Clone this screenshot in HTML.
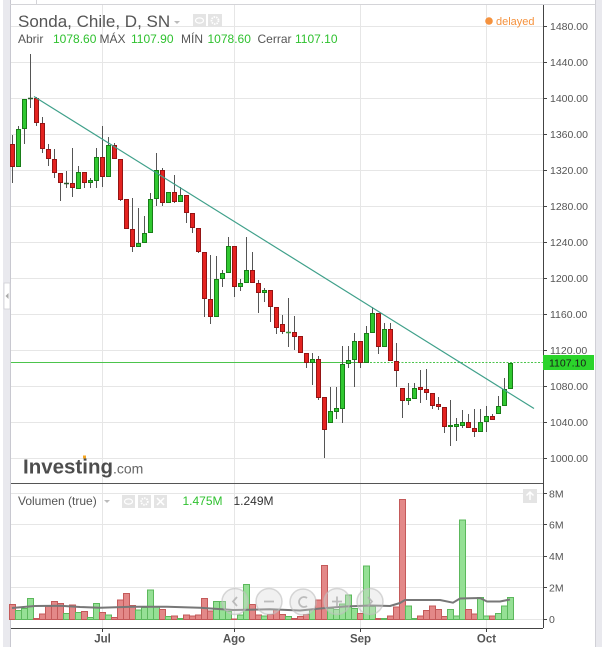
<!DOCTYPE html>
<html><head><meta charset="utf-8"><style>
html,body{margin:0;padding:0;background:#fff;}
svg{display:block;font-family:"Liberation Sans",Arial,sans-serif;}
.w{stroke:#555;stroke-width:1;}
.r{fill:#e42320;stroke:#941414;stroke-width:1;}
.g{fill:#30c830;stroke:#187d18;stroke-width:1;}
.vr{fill:#e38888;stroke:#c45a5a;stroke-width:1;}
.vg{fill:#95e095;stroke:#5cb85c;stroke-width:1;}
.gl{stroke:#e6e6e6;stroke-width:1;}
.ax{font-size:10.5px;fill:#555;}
</style></head><body>
<svg width="605" height="647" viewBox="0 0 605 647" xmlns="http://www.w3.org/2000/svg">
<rect width="605" height="647" fill="#fff"/>
<rect x="3" y="0" width="7" height="647" fill="#e9e9ee"/>
<line x1="10.5" y1="0" x2="10.5" y2="647" stroke="#c8c8d0"/>
<rect x="4" y="283" width="6" height="26" fill="#fff" stroke="#d0d0d6" stroke-width="0.8"/>
<polygon points="8.5,293 8.5,299 5.5,296" fill="#aaa"/>
<rect x="595" y="0" width="7" height="647" fill="#e9e9ee"/>
<line x1="595.5" y1="0" x2="595.5" y2="647" stroke="#d0d0d6"/>
<line x1="10" y1="4.5" x2="595" y2="4.5" stroke="#d4d4d8"/>
<line x1="36.5" y1="0" x2="36.5" y2="4" stroke="#d4d4d8"/>
<g class="gl">
<line x1="11" y1="26.5" x2="543" y2="26.5"/><line x1="11" y1="62.5" x2="543" y2="62.5"/>
<line x1="11" y1="98.5" x2="543" y2="98.5"/><line x1="11" y1="134.5" x2="543" y2="134.5"/>
<line x1="11" y1="170.5" x2="543" y2="170.5"/><line x1="11" y1="206.5" x2="543" y2="206.5"/>
<line x1="11" y1="242.5" x2="543" y2="242.5"/><line x1="11" y1="278.5" x2="543" y2="278.5"/>
<line x1="11" y1="314.5" x2="543" y2="314.5"/><line x1="11" y1="350.5" x2="543" y2="350.5"/>
<line x1="11" y1="386.5" x2="543" y2="386.5"/><line x1="11" y1="422.5" x2="543" y2="422.5"/>
<line x1="11" y1="458.5" x2="543" y2="458.5"/>
<line x1="11" y1="493.5" x2="543" y2="493.5"/><line x1="11" y1="524.5" x2="543" y2="524.5"/>
<line x1="11" y1="556.5" x2="543" y2="556.5"/><line x1="11" y1="587.5" x2="543" y2="587.5"/>
<line x1="11" y1="619.5" x2="543" y2="619.5"/>
<line x1="102.5" y1="5" x2="102.5" y2="628"/><line x1="234.5" y1="5" x2="234.5" y2="628"/>
<line x1="360.5" y1="5" x2="360.5" y2="628"/><line x1="486.5" y1="5" x2="486.5" y2="628"/>
</g>
<text x="18" y="27" font-size="17" fill="#555">Sonda, Chile, D, SN</text>
<polygon points="174,21 180,21 177,24" fill="#bbb"/>
<rect x="193" y="14" width="13" height="13" fill="#e4e4e4"/>
<ellipse cx="199.5" cy="20.5" rx="4" ry="2.6" fill="none" stroke="#fff" stroke-width="1.2"/>
<rect x="208" y="14" width="14" height="13" fill="#e4e4e4"/>
<circle cx="215" cy="20.5" r="3.5" fill="none" stroke="#fff" stroke-width="1.8" stroke-dasharray="1.5,1"/>
<g font-size="12">
<text x="18" y="43" fill="#555">Abrir</text>
<text x="53" y="43" fill="#2fc12f">1078.60</text>
<text x="99.5" y="43" fill="#555">MÁX</text>
<text x="131" y="43" fill="#2fc12f">1107.90</text>
<text x="181" y="43" fill="#555">MÍN</text>
<text x="207.5" y="43" fill="#2fc12f">1078.60</text>
<text x="257.5" y="43" fill="#555">Cerrar</text>
<text x="295" y="43" fill="#2fc12f">1107.10</text>
</g>
<circle cx="489" cy="21" r="3.8" fill="#f5923e"/>
<text x="496" y="25" font-size="11" fill="#f5923e">delayed</text>
<line x1="543.5" y1="5" x2="543.5" y2="628" stroke="#444"/>
<g stroke="#444">
<line x1="543" y1="26.5" x2="547" y2="26.5"/><line x1="543" y1="62.5" x2="547" y2="62.5"/>
<line x1="543" y1="98.5" x2="547" y2="98.5"/><line x1="543" y1="134.5" x2="547" y2="134.5"/>
<line x1="543" y1="170.5" x2="547" y2="170.5"/><line x1="543" y1="206.5" x2="547" y2="206.5"/>
<line x1="543" y1="242.5" x2="547" y2="242.5"/><line x1="543" y1="278.5" x2="547" y2="278.5"/>
<line x1="543" y1="314.5" x2="547" y2="314.5"/><line x1="543" y1="350.5" x2="547" y2="350.5"/>
<line x1="543" y1="386.5" x2="547" y2="386.5"/><line x1="543" y1="422.5" x2="547" y2="422.5"/>
<line x1="543" y1="458.5" x2="547" y2="458.5"/>
<line x1="543" y1="493.5" x2="547" y2="493.5"/><line x1="543" y1="524.5" x2="547" y2="524.5"/>
<line x1="543" y1="556.5" x2="547" y2="556.5"/><line x1="543" y1="587.5" x2="547" y2="587.5"/>
<line x1="543" y1="619.5" x2="547" y2="619.5"/>
</g>
<g class="ax">
<text x="550" y="30">1480.00</text><text x="550" y="66">1440.00</text>
<text x="550" y="102">1400.00</text><text x="550" y="138">1360.00</text>
<text x="550" y="174">1320.00</text><text x="550" y="210">1280.00</text>
<text x="550" y="246">1240.00</text><text x="550" y="282">1200.00</text>
<text x="550" y="318">1160.00</text><text x="550" y="354">1120.00</text>
<text x="550" y="390">1080.00</text><text x="550" y="426">1040.00</text>
<text x="550" y="462">1000.00</text>
<text x="549" y="497.5">8M</text><text x="549" y="528.5">6M</text>
<text x="549" y="560">4M</text><text x="549" y="591.5">2M</text>
<text x="549" y="623">0</text>
</g>
<text x="23" y="473.5" font-size="20.5" font-weight="bold" fill="#4d4d4d" textLength="90" lengthAdjust="spacingAndGlyphs">Investing</text>
<text x="113" y="473.5" font-size="14" fill="#666">.com</text>
<rect x="83" y="455.5" width="3" height="3" fill="#f5a623"/>
<line x1="11" y1="362.5" x2="363" y2="362.5" stroke="#4cc44c"/>
<line x1="363" y1="362.5" x2="543" y2="362.5" stroke="#4cc44c" stroke-dasharray="2,1.5"/>
<g>
<line class="w" x1="12.5" y1="135" x2="12.5" y2="183"/><rect class="r" x="10.5" y="144.5" width="4" height="22"/>
<line class="w" x1="18.5" y1="126" x2="18.5" y2="167"/><rect class="g" x="16.5" y="129.5" width="4" height="37"/>
<line class="w" x1="24.5" y1="99" x2="24.5" y2="144"/><rect class="g" x="22.5" y="99.5" width="4" height="29"/>
<line class="w" x1="30.5" y1="54" x2="30.5" y2="108"/><line x1="28" y1="98.5" x2="33" y2="98.5" stroke="#2a5a2a" stroke-width="1.5"/>
<line class="w" x1="36.5" y1="97" x2="36.5" y2="126"/><rect class="r" x="34.5" y="98.5" width="4" height="24"/>
<line class="w" x1="42.5" y1="117" x2="42.5" y2="153"/><rect class="r" x="40.5" y="123.5" width="4" height="25"/>
<line class="w" x1="48.5" y1="144" x2="48.5" y2="166"/><rect class="r" x="46.5" y="149.5" width="4" height="9"/>
<line class="w" x1="54.5" y1="149" x2="54.5" y2="178"/><rect class="r" x="52.5" y="159.5" width="4" height="13"/>
<line class="w" x1="60.5" y1="173" x2="60.5" y2="201"/><rect class="r" x="58.5" y="173.5" width="4" height="9"/>
<line class="w" x1="66.5" y1="171" x2="66.5" y2="188"/><line x1="64" y1="183.5" x2="69" y2="183.5" stroke="#2a5a2a" stroke-width="1.5"/>
<line class="w" x1="72.5" y1="148" x2="72.5" y2="197"/><rect class="r" x="70.5" y="183.5" width="4" height="4"/>
<line class="w" x1="78.5" y1="166" x2="78.5" y2="189"/><rect class="g" x="76.5" y="172.5" width="4" height="16"/>
<line class="w" x1="84.5" y1="172" x2="84.5" y2="188"/><rect class="r" x="82.5" y="172.5" width="4" height="10"/>
<line class="w" x1="90.5" y1="178" x2="90.5" y2="188"/><rect class="g" x="88.5" y="180.5" width="4" height="2"/>
<line class="w" x1="96.5" y1="148" x2="96.5" y2="188"/><rect class="g" x="94.5" y="157.5" width="4" height="23"/>
<line class="w" x1="102.5" y1="126" x2="102.5" y2="187"/><rect class="r" x="100.5" y="157.5" width="4" height="19"/>
<line class="w" x1="108.5" y1="137" x2="108.5" y2="177"/><rect class="g" x="106.5" y="145.5" width="4" height="31"/>
<line class="w" x1="114.5" y1="143" x2="114.5" y2="159"/><rect class="r" x="112.5" y="145.5" width="4" height="13"/>
<line class="w" x1="120.5" y1="159" x2="120.5" y2="201"/><rect class="r" x="118.5" y="159.5" width="4" height="40"/>
<line class="w" x1="126.5" y1="199" x2="126.5" y2="229"/><rect class="r" x="124.5" y="199.5" width="4" height="29"/>
<line class="w" x1="132.5" y1="198" x2="132.5" y2="252"/><rect class="r" x="130.5" y="229.5" width="4" height="17"/>
<line class="w" x1="138.5" y1="208" x2="138.5" y2="247"/><rect class="g" x="136.5" y="243.5" width="4" height="3"/>
<line class="w" x1="144.5" y1="216" x2="144.5" y2="243"/><rect class="g" x="142.5" y="233.5" width="4" height="9"/>
<line class="w" x1="150.5" y1="193" x2="150.5" y2="233"/><rect class="g" x="148.5" y="199.5" width="4" height="33"/>
<line class="w" x1="156.5" y1="153" x2="156.5" y2="206"/><rect class="g" x="154.5" y="170.5" width="4" height="28"/>
<line class="w" x1="162.5" y1="168" x2="162.5" y2="206"/><rect class="r" x="160.5" y="170.5" width="4" height="32"/>
<line class="w" x1="168.5" y1="192" x2="168.5" y2="203"/><rect class="g" x="166.5" y="192.5" width="4" height="10"/>
<line class="w" x1="174.5" y1="175" x2="174.5" y2="203"/><rect class="r" x="172.5" y="192.5" width="4" height="9"/>
<line class="w" x1="180.5" y1="187" x2="180.5" y2="202"/><rect class="g" x="178.5" y="195.5" width="4" height="6"/>
<line class="w" x1="186.5" y1="195" x2="186.5" y2="223"/><rect class="r" x="184.5" y="195.5" width="4" height="17"/>
<line class="w" x1="192.5" y1="213" x2="192.5" y2="233"/><rect class="r" x="190.5" y="213.5" width="4" height="14"/>
<line class="w" x1="198.5" y1="228" x2="198.5" y2="253"/><rect class="r" x="196.5" y="228.5" width="4" height="23"/>
<line class="w" x1="204.5" y1="252" x2="204.5" y2="317"/><rect class="r" x="202.5" y="252.5" width="4" height="46"/>
<line class="w" x1="210.5" y1="255" x2="210.5" y2="324"/><rect class="r" x="208.5" y="299.5" width="4" height="17"/>
<line class="w" x1="216.5" y1="256" x2="216.5" y2="317"/><rect class="g" x="214.5" y="279.5" width="4" height="37"/>
<line class="w" x1="222.5" y1="270" x2="222.5" y2="287"/><rect class="g" x="220.5" y="273.5" width="4" height="5"/>
<line class="w" x1="228.5" y1="237" x2="228.5" y2="273"/><rect class="g" x="226.5" y="246.5" width="4" height="26"/>
<line class="w" x1="234.5" y1="246" x2="234.5" y2="297"/><rect class="r" x="232.5" y="246.5" width="4" height="40"/>
<line class="w" x1="240.5" y1="279" x2="240.5" y2="291"/><rect class="g" x="238.5" y="283.5" width="4" height="3"/>
<line class="w" x1="246.5" y1="237" x2="246.5" y2="283"/><rect class="g" x="244.5" y="270.5" width="4" height="12"/>
<line class="w" x1="252.5" y1="252" x2="252.5" y2="283"/><rect class="r" x="250.5" y="270.5" width="4" height="12"/>
<line class="w" x1="258.5" y1="280" x2="258.5" y2="313"/><rect class="r" x="256.5" y="283.5" width="4" height="9"/>
<line class="w" x1="264.5" y1="288" x2="264.5" y2="302"/><rect class="g" x="262.5" y="290.5" width="4" height="2"/>
<line class="w" x1="270.5" y1="290" x2="270.5" y2="322"/><rect class="r" x="268.5" y="290.5" width="4" height="16"/>
<line class="w" x1="276.5" y1="307" x2="276.5" y2="334"/><rect class="r" x="274.5" y="307.5" width="4" height="20"/>
<line class="w" x1="282.5" y1="315" x2="282.5" y2="334"/><rect class="r" x="280.5" y="324.5" width="4" height="7"/>
<line class="w" x1="288.5" y1="298" x2="288.5" y2="347"/><line x1="286" y1="332.5" x2="291" y2="332.5" stroke="#3a9a3a" stroke-width="1.5"/>
<line class="w" x1="294.5" y1="316" x2="294.5" y2="350"/><rect class="r" x="292.5" y="332.5" width="4" height="4"/>
<line class="w" x1="300.5" y1="336" x2="300.5" y2="353"/><rect class="r" x="298.5" y="336.5" width="4" height="16"/>
<line class="w" x1="306.5" y1="353" x2="306.5" y2="368"/><rect class="r" x="304.5" y="353.5" width="4" height="9"/>
<line class="w" x1="312.5" y1="353" x2="312.5" y2="385"/><rect class="g" x="310.5" y="359.5" width="4" height="3"/>
<line class="w" x1="318.5" y1="356" x2="318.5" y2="400"/><rect class="r" x="316.5" y="359.5" width="4" height="38"/>
<line class="w" x1="324.5" y1="397" x2="324.5" y2="458"/><rect class="r" x="322.5" y="397.5" width="4" height="32"/>
<line class="w" x1="330.5" y1="387" x2="330.5" y2="423"/><rect class="g" x="328.5" y="411.5" width="4" height="11"/>
<line class="w" x1="336.5" y1="387" x2="336.5" y2="419"/><rect class="g" x="334.5" y="408.5" width="4" height="3"/>
<line class="w" x1="342.5" y1="346" x2="342.5" y2="423"/><rect class="g" x="340.5" y="364.5" width="4" height="44"/>
<line class="w" x1="348.5" y1="346" x2="348.5" y2="368"/><rect class="g" x="346.5" y="360.5" width="4" height="3"/>
<line class="w" x1="354.5" y1="333" x2="354.5" y2="387"/><rect class="g" x="352.5" y="341.5" width="4" height="18"/>
<line class="w" x1="360.5" y1="341" x2="360.5" y2="368"/><rect class="r" x="358.5" y="341.5" width="4" height="21"/>
<line class="w" x1="366.5" y1="326" x2="366.5" y2="363"/><rect class="g" x="364.5" y="333.5" width="4" height="29"/>
<line class="w" x1="372.5" y1="307" x2="372.5" y2="333"/><rect class="g" x="370.5" y="313.5" width="4" height="19"/>
<line class="w" x1="378.5" y1="313" x2="378.5" y2="354"/><rect class="r" x="376.5" y="313.5" width="4" height="33"/>
<line class="w" x1="384.5" y1="323" x2="384.5" y2="347"/><rect class="g" x="382.5" y="329.5" width="4" height="17"/>
<line class="w" x1="390.5" y1="323" x2="390.5" y2="361"/><rect class="r" x="388.5" y="329.5" width="4" height="31"/>
<line class="w" x1="396.5" y1="343" x2="396.5" y2="387"/><rect class="r" x="394.5" y="361.5" width="4" height="9"/>
<line class="w" x1="402.5" y1="388" x2="402.5" y2="418"/><rect class="r" x="400.5" y="388.5" width="4" height="12"/>
<line class="w" x1="408.5" y1="383" x2="408.5" y2="405"/><rect class="g" x="406.5" y="398.5" width="4" height="2"/>
<line class="w" x1="414.5" y1="383" x2="414.5" y2="399"/><rect class="g" x="412.5" y="388.5" width="4" height="10"/>
<line class="w" x1="420.5" y1="370" x2="420.5" y2="403"/><rect class="r" x="418.5" y="387.5" width="4" height="2"/>
<line class="w" x1="426.5" y1="369" x2="426.5" y2="400"/><rect class="r" x="424.5" y="389.5" width="4" height="3"/>
<line class="w" x1="432.5" y1="393" x2="432.5" y2="409"/><rect class="r" x="430.5" y="393.5" width="4" height="12"/>
<line class="w" x1="438.5" y1="397" x2="438.5" y2="410"/><rect class="r" x="436.5" y="404.5" width="4" height="2"/>
<line class="w" x1="444.5" y1="407" x2="444.5" y2="433"/><rect class="r" x="442.5" y="407.5" width="4" height="19"/>
<line class="w" x1="450.5" y1="400" x2="450.5" y2="446"/><rect class="g" x="448.5" y="425.5" width="4" height="1"/>
<line class="w" x1="456.5" y1="418" x2="456.5" y2="441"/><rect class="g" x="454.5" y="424.5" width="4" height="2"/>
<line class="w" x1="462.5" y1="410" x2="462.5" y2="428"/><rect class="g" x="460.5" y="422.5" width="4" height="3"/>
<line class="w" x1="468.5" y1="414" x2="468.5" y2="428"/><rect class="r" x="466.5" y="422.5" width="4" height="5"/>
<line class="w" x1="474.5" y1="409" x2="474.5" y2="437"/><rect class="r" x="472.5" y="428.5" width="4" height="3"/>
<line class="w" x1="480.5" y1="409" x2="480.5" y2="432"/><rect class="g" x="478.5" y="422.5" width="4" height="9"/>
<line class="w" x1="486.5" y1="406" x2="486.5" y2="432"/><rect class="g" x="484.5" y="416.5" width="4" height="5"/>
<line class="w" x1="492.5" y1="414" x2="492.5" y2="420"/><rect class="r" x="490.5" y="416.5" width="4" height="3"/>
<line class="w" x1="498.5" y1="396" x2="498.5" y2="414"/><rect class="g" x="496.5" y="406.5" width="4" height="7"/>
<line class="w" x1="504.5" y1="378" x2="504.5" y2="406"/><rect class="g" x="502.5" y="389.5" width="4" height="16"/>
<line class="w" x1="510.5" y1="363" x2="510.5" y2="389"/><rect class="g" x="508.5" y="363.5" width="4" height="25"/>
</g>
<line x1="34" y1="96.5" x2="534" y2="408.5" stroke="#3fa08a" stroke-width="1.2"/>
<rect x="543" y="355" width="51" height="15" fill="#2bd42b"/>
<text x="549" y="366.5" font-size="10.5" fill="#1a1a1a">1107.10</text>
<line x1="11" y1="483.5" x2="543" y2="483.5" stroke="#555"/>
<text x="18" y="505" font-size="12" fill="#555">Volumen (true)</text>
<polygon points="104,500 110,500 107,503" fill="#bbb"/>
<rect x="122" y="495" width="13" height="13" fill="#e4e4e4"/>
<ellipse cx="128.5" cy="501.5" rx="4" ry="2.6" fill="none" stroke="#fff" stroke-width="1.2"/>
<rect x="138" y="495" width="13" height="13" fill="#e4e4e4"/>
<circle cx="144.5" cy="501.5" r="3.3" fill="none" stroke="#fff" stroke-width="1.8" stroke-dasharray="1.5,1"/>
<rect x="154" y="495" width="13" height="13" fill="#e4e4e4"/>
<path d="M157 498 L164 505 M164 498 L157 505" stroke="#fff" stroke-width="1.5"/>
<text x="182.5" y="505" font-size="12" fill="#2fc12f">1.475M</text>
<text x="233.5" y="505" font-size="12" fill="#333">1.249M</text>
<rect x="523" y="489" width="14" height="14" fill="#e4e4e4"/>
<path d="M530 492 L530 500 M526.5 495.5 L530 492 L533.5 495.5" stroke="#fff" stroke-width="1.5" fill="none"/>
<g>
<rect class="vr" x="9.5" y="604.5" width="6" height="15"/>
<rect class="vg" x="15.5" y="610.5" width="6" height="9"/>
<rect class="vg" x="21.5" y="608.5" width="6" height="11"/>
<rect class="vg" x="27.5" y="598.5" width="6" height="21"/>
<rect class="vr" x="33.5" y="618.5" width="6" height="1"/>
<rect class="vr" x="39.5" y="614" width="6" height="5.5"/>
<rect class="vr" x="45.5" y="606.5" width="6" height="13"/>
<rect class="vr" x="51.5" y="601.5" width="6" height="18"/>
<rect class="vr" x="57.5" y="603.5" width="6" height="16"/>
<rect class="vg" x="63.5" y="613.5" width="6" height="6"/>
<rect class="vr" x="69.5" y="605" width="6" height="14.5"/>
<rect class="vg" x="75.5" y="612.5" width="6" height="7"/>
<rect class="vr" x="81.5" y="611.5" width="6" height="8"/>
<rect class="vg" x="87.5" y="617.5" width="6" height="2"/>
<rect class="vg" x="93.5" y="603.5" width="6" height="16"/>
<rect class="vr" x="99.5" y="612.5" width="6" height="7"/>
<rect class="vg" x="105.5" y="615" width="6" height="4.5"/>
<rect class="vr" x="111.5" y="617.5" width="6" height="2"/>
<rect class="vr" x="117.5" y="600" width="6" height="19.5"/>
<rect class="vr" x="123.5" y="593.5" width="6" height="26"/>
<rect class="vr" x="129.5" y="605.5" width="6" height="14"/>
<rect class="vg" x="135.5" y="610" width="6" height="9.5"/>
<rect class="vg" x="141.5" y="607.5" width="6" height="12"/>
<rect class="vg" x="147.5" y="590" width="6" height="29.5"/>
<rect class="vg" x="153.5" y="606.5" width="6" height="13"/>
<rect class="vr" x="159.5" y="609.5" width="6" height="10"/>
<rect class="vg" x="165.5" y="616.5" width="6" height="3"/>
<rect class="vr" x="171.5" y="616" width="6" height="3.5"/>
<rect class="vg" x="177.5" y="618.5" width="6" height="1"/>
<rect class="vr" x="183.5" y="615" width="6" height="4.5"/>
<rect class="vr" x="189.5" y="616" width="6" height="3.5"/>
<rect class="vr" x="195.5" y="615" width="6" height="4.5"/>
<rect class="vr" x="201.5" y="598.5" width="6" height="21"/>
<rect class="vr" x="207.5" y="611" width="6" height="8.5"/>
<rect class="vg" x="213.5" y="601.5" width="6" height="18"/>
<rect class="vg" x="219.5" y="601.5" width="6" height="18"/>
<rect class="vg" x="225.5" y="611.5" width="6" height="8"/>
<rect class="vr" x="231.5" y="619" width="6" height="0.5"/>
<rect class="vg" x="237.5" y="615" width="6" height="4.5"/>
<rect class="vg" x="243.5" y="584.5" width="6" height="35"/>
<rect class="vr" x="249.5" y="604.5" width="6" height="15"/>
<rect class="vr" x="255.5" y="615" width="6" height="4.5"/>
<rect class="vg" x="261.5" y="616" width="6" height="3.5"/>
<rect class="vr" x="267.5" y="614.5" width="6" height="5"/>
<rect class="vr" x="273.5" y="609.5" width="6" height="10"/>
<rect class="vr" x="279.5" y="614.5" width="6" height="5"/>
<rect class="vg" x="285.5" y="616.5" width="6" height="3"/>
<rect class="vr" x="291.5" y="618.5" width="6" height="1"/>
<rect class="vr" x="297.5" y="616.5" width="6" height="3"/>
<rect class="vr" x="303.5" y="614.5" width="6" height="5"/>
<rect class="vg" x="309.5" y="609.5" width="6" height="10"/>
<rect class="vr" x="315.5" y="600" width="6" height="19.5"/>
<rect class="vr" x="321.5" y="565.5" width="6" height="54"/>
<rect class="vg" x="327.5" y="608.5" width="6" height="11"/>
<rect class="vg" x="333.5" y="609.5" width="6" height="10"/>
<rect class="vg" x="339.5" y="604" width="6" height="15.5"/>
<rect class="vg" x="345.5" y="595" width="6" height="24.5"/>
<rect class="vg" x="351.5" y="608.5" width="6" height="11"/>
<rect class="vr" x="357.5" y="613.5" width="6" height="6"/>
<rect class="vg" x="363.5" y="566" width="6" height="53.5"/>
<rect class="vg" x="369.5" y="606.5" width="6" height="13"/>
<rect class="vr" x="375.5" y="618.5" width="6" height="1"/>
<rect class="vg" x="381.5" y="618.5" width="6" height="1"/>
<rect class="vr" x="387.5" y="616" width="6" height="3.5"/>
<rect class="vr" x="393.5" y="607" width="6" height="12.5"/>
<rect class="vr" x="399.5" y="499.5" width="6" height="120"/>
<rect class="vg" x="405.5" y="606" width="6" height="13.5"/>
<rect class="vg" x="411.5" y="618.5" width="6" height="1"/>
<rect class="vr" x="417.5" y="616" width="6" height="3.5"/>
<rect class="vr" x="423.5" y="610.5" width="6" height="9"/>
<rect class="vr" x="429.5" y="606" width="6" height="13.5"/>
<rect class="vr" x="435.5" y="609.5" width="6" height="10"/>
<rect class="vr" x="441.5" y="616.5" width="6" height="3"/>
<rect class="vg" x="447.5" y="609.5" width="6" height="10"/>
<rect class="vg" x="453.5" y="616" width="6" height="3.5"/>
<rect class="vg" x="459.5" y="520" width="6" height="99.5"/>
<rect class="vr" x="465.5" y="609.5" width="6" height="10"/>
<rect class="vr" x="471.5" y="614" width="6" height="5.5"/>
<rect class="vg" x="477.5" y="597.5" width="6" height="22"/>
<rect class="vg" x="483.5" y="616" width="6" height="3.5"/>
<rect class="vr" x="489.5" y="616" width="6" height="3.5"/>
<rect class="vg" x="495.5" y="613.5" width="6" height="6"/>
<rect class="vg" x="501.5" y="606" width="6" height="13.5"/>
<rect class="vg" x="507.5" y="597.5" width="6" height="22"/>
</g>
<polyline fill="none" stroke="#777" stroke-width="2" stroke-linejoin="round" points="12,608 35,606 60,605.7 80,607 100,607.7 133,606.7 167,606.7 200,607.7 233,610 270,609.3 300,610.5 323,608.3 345,606.5 370,605.5 390,606 400,603 405,600 440,600 453,602.7 460,598.5 480,598 487,601.5 500,601.5 510,599.5"/>
<g fill="rgba(215,215,215,0.35)" stroke="rgba(190,190,190,0.6)" stroke-width="1.5">
<circle cx="235" cy="601.5" r="13"/><circle cx="269" cy="601.5" r="13"/>
<circle cx="303" cy="602" r="13"/><circle cx="337" cy="601.5" r="13"/>
<circle cx="370" cy="601.5" r="13"/>
</g>
<g stroke="rgba(175,175,175,0.8)" stroke-width="1.8" fill="none">
<path d="M237 597 L233 601.5 L237 606"/>
<path d="M264 601.5 L274 601.5"/>
<path d="M307 598 A5 5 0 1 0 307 606"/>
<path d="M332 601.5 L342 601.5 M337 596.5 L337 606.5"/>
<path d="M368 597 L372 601.5 L368 606"/>
</g>
<line x1="11" y1="628.5" x2="543" y2="628.5" stroke="#444"/>
<g stroke="#444">
<line x1="102.5" y1="628" x2="102.5" y2="632"/><line x1="234.5" y1="628" x2="234.5" y2="632"/>
<line x1="360.5" y1="628" x2="360.5" y2="632"/><line x1="486.5" y1="628" x2="486.5" y2="632"/>
</g>
<g font-size="11.5" font-weight="bold" fill="#555" text-anchor="middle">
<text x="102.5" y="642.5">Jul</text><text x="234" y="642.5">Ago</text>
<text x="360.5" y="642.5">Sep</text><text x="486.5" y="642.5">Oct</text>
</g>
</svg>
</body></html>
